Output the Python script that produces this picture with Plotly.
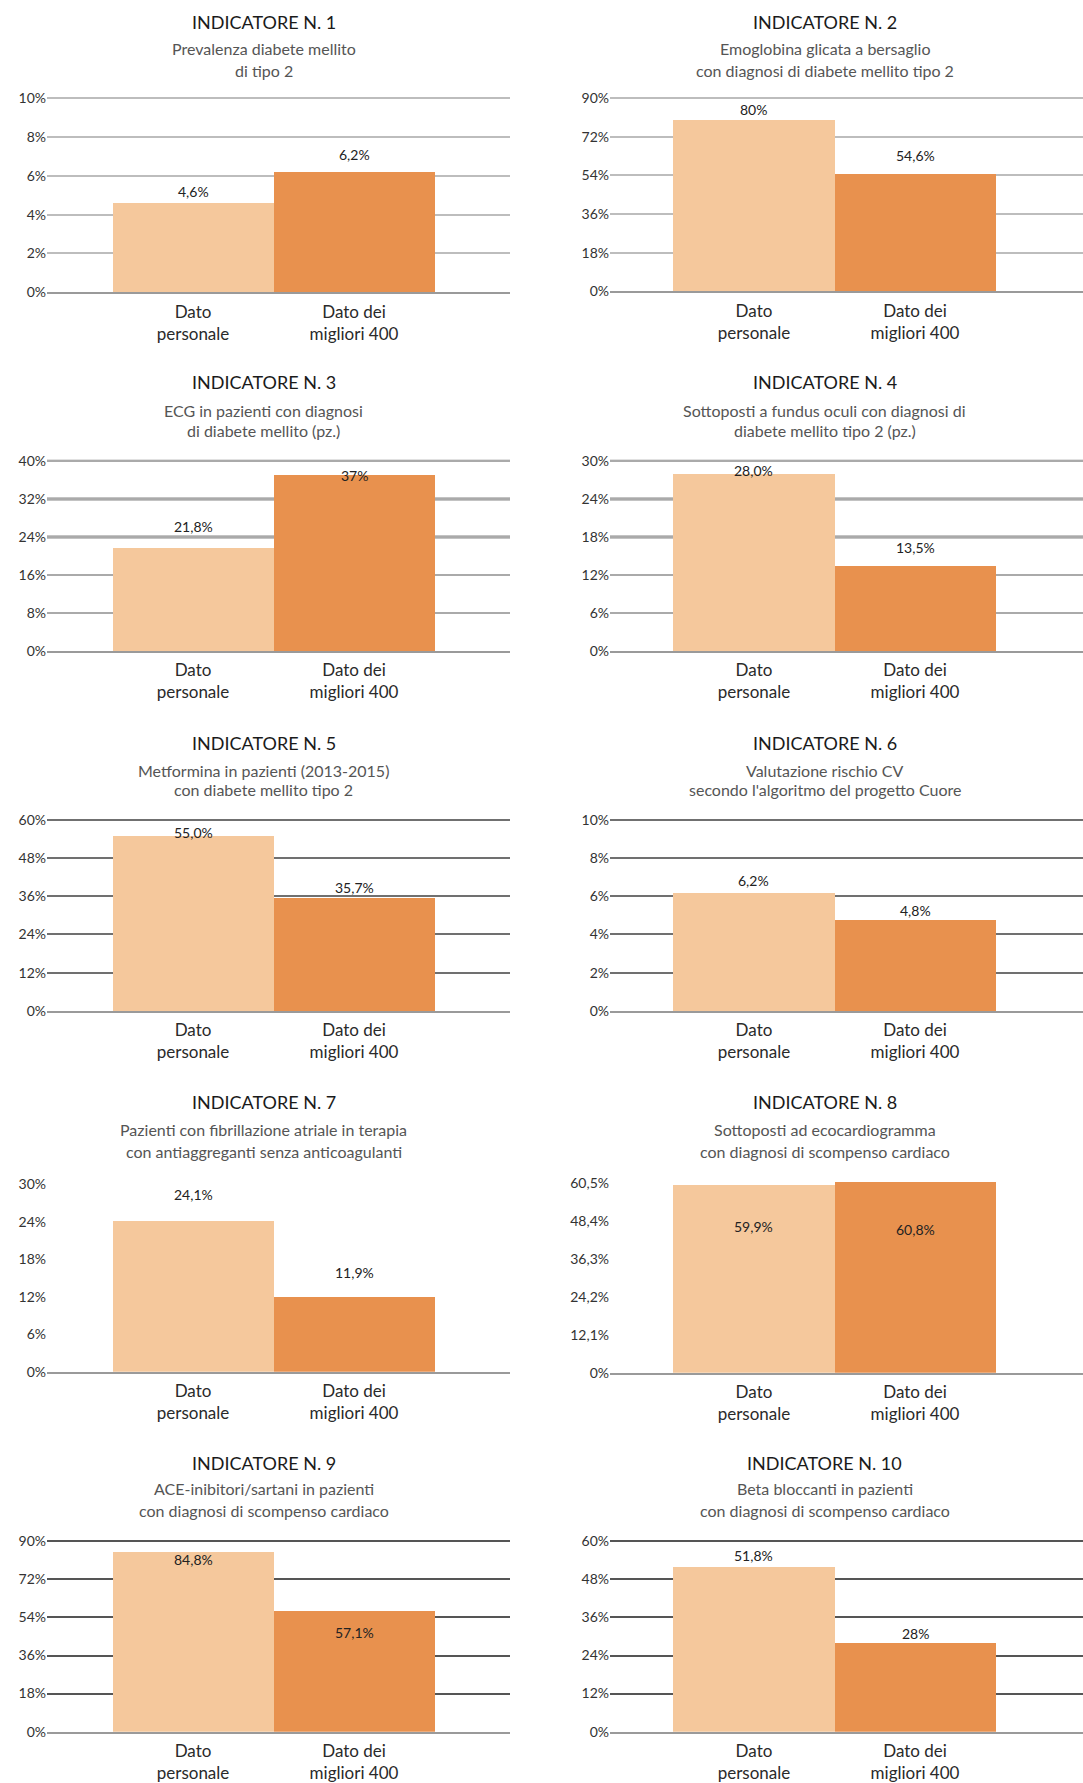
import plotly.graph_objects as go

# ---------------- data ----------------
categories = ["Dato<br>personale", "Dato dei<br>migliori 400"]

titles = ["INDICATORE N. 1", "INDICATORE N. 2", "INDICATORE N. 3", "INDICATORE N. 4",
          "INDICATORE N. 5", "INDICATORE N. 6", "INDICATORE N. 7", "INDICATORE N. 8",
          "INDICATORE N. 9", "INDICATORE N. 10"]

subtitles = [
    ["Prevalenza diabete mellito", "di tipo 2"],
    ["Emoglobina glicata a bersaglio", "con diagnosi di diabete mellito tipo 2"],
    ["ECG in pazienti con diagnosi", "di diabete mellito (pz.)"],
    ["Sottoposti a fundus oculi con diagnosi di", "diabete mellito tipo 2 (pz.)"],
    ["Metformina in pazienti (2013-2015)", "con diabete mellito tipo 2"],
    ["Valutazione rischio CV", "secondo l'algoritmo del progetto Cuore"],
    ["Pazienti con fibrillazione atriale in terapia", "con antiaggreganti senza anticoagulanti"],
    ["Sottoposti ad ecocardiogramma", "con diagnosi di scompenso cardiaco"],
    ["ACE-inibitori/sartani in pazienti", "con diagnosi di scompenso cardiaco"],
    ["Beta bloccanti in pazienti", "con diagnosi di scompenso cardiaco"],
]

ind1_values = [4.6, 6.2]
ind1_labels = ["4,6%", "6,2%"]
ind1_ticks = [0, 2, 4, 6, 8, 10]
ind1_ticktext = ["0%", "2%", "4%", "6%", "8%", "10%"]

ind2_values = [80, 54.6]
ind2_labels = ["80%", "54,6%"]
ind2_ticks = [0, 18, 36, 54, 72, 90]
ind2_ticktext = ["0%", "18%", "36%", "54%", "72%", "90%"]

ind3_values = [21.8, 37]
ind3_labels = ["21,8%", "37%"]
ind3_ticks = [0, 8, 16, 24, 32, 40]
ind3_ticktext = ["0%", "8%", "16%", "24%", "32%", "40%"]

ind4_values = [28.0, 13.5]
ind4_labels = ["28,0%", "13,5%"]
ind4_ticks = [0, 6, 12, 18, 24, 30]
ind4_ticktext = ["0%", "6%", "12%", "18%", "24%", "30%"]

ind5_values = [55.0, 35.7]
ind5_labels = ["55,0%", "35,7%"]
ind5_ticks = [0, 12, 24, 36, 48, 60]
ind5_ticktext = ["0%", "12%", "24%", "36%", "48%", "60%"]

ind6_values = [6.2, 4.8]
ind6_labels = ["6,2%", "4,8%"]
ind6_ticks = [0, 2, 4, 6, 8, 10]
ind6_ticktext = ["0%", "2%", "4%", "6%", "8%", "10%"]

ind7_values = [24.1, 11.9]
ind7_labels = ["24,1%", "11,9%"]
ind7_ticks = [0, 6, 12, 18, 24, 30]
ind7_ticktext = ["0%", "6%", "12%", "18%", "24%", "30%"]

ind8_values = [59.9, 60.8]
ind8_labels = ["59,9%", "60,8%"]
ind8_ticks = [0, 12.1, 24.2, 36.3, 48.4, 60.5]
ind8_ticktext = ["0%", "12,1%", "24,2%", "36,3%", "48,4%", "60,5%"]

ind9_values = [84.8, 57.1]
ind9_labels = ["84,8%", "57,1%"]
ind9_ticks = [0, 18, 36, 54, 72, 90]
ind9_ticktext = ["0%", "18%", "36%", "54%", "72%", "90%"]

ind10_values = [51.8, 28]
ind10_labels = ["51,8%", "28%"]
ind10_ticks = [0, 12, 24, 36, 48, 60]
ind10_ticktext = ["0%", "12%", "24%", "36%", "48%", "60%"]

all_values = [ind1_values, ind2_values, ind3_values, ind4_values, ind5_values,
              ind6_values, ind7_values, ind8_values, ind9_values, ind10_values]
all_labels = [ind1_labels, ind2_labels, ind3_labels, ind4_labels, ind5_labels,
              ind6_labels, ind7_labels, ind8_labels, ind9_labels, ind10_labels]
all_ticks = [ind1_ticks, ind2_ticks, ind3_ticks, ind4_ticks, ind5_ticks,
             ind6_ticks, ind7_ticks, ind8_ticks, ind9_ticks, ind10_ticks]
all_ticktext = [ind1_ticktext, ind2_ticktext, ind3_ticktext, ind4_ticktext, ind5_ticktext,
                ind6_ticktext, ind7_ticktext, ind8_ticktext, ind9_ticktext, ind10_ticktext]

# ---------------- styles / layout ----------------
W, H = 1083, 1783
bar_colors = ["#F5C89C", "#E8914E"]
FONT = "Lato"


def vy(px):
    # vertical pixel target -> figure pixel (compensates the page capture)
    return (px - 7.7) / 0.9892


# plot area pixel positions (top, bottom) per panel
plot_px = [(98, 293), (98, 292), (462, 653), (462, 653), (822, 1014), (822, 1014),
           (1188, 1376), (1185, 1377), (1546, 1737), (1546, 1737)]
# title / subtitle line centres per row
title_px = [(22, 48, 70), (383, 412, 432), (745, 773, 792), (1105, 1133, 1155), (1467, 1493, 1515)]
col_x = [(47, 510), (610, 1083)]
col_xrange = [[-0.907, 1.969], [-0.894, 2.043]]

grid_colors = ["#BDBDBD", "#BDBDBD", "#AAAAAA", "#AAAAAA", "#707070", "#707070",
               None, None, "#555555", "#555555"]
dark_top_lines = [False, False, True, True, False, False, False, False, False, False]
label_shift = [[11, 17], [10, 19], [21, 0], [3, 18], [3, 10], [12, 9],
               [27, 25], [-42, -47], [-7, -22], [12, 9]]
yrange_top = [None] * 10
yrange_top[7] = 61

fig = go.Figure()
annotations = []
shapes = []

for i in range(10):
    n = i + 1
    r, c = divmod(i, 2)
    xa = "x" if n == 1 else f"x{n}"
    ya = "y" if n == 1 else f"y{n}"
    xk = "xaxis" if n == 1 else f"xaxis{n}"
    yk = "yaxis" if n == 1 else f"yaxis{n}"

    fig.add_trace(go.Bar(
        x=[0, 1], y=all_values[i], width=1,
        marker=dict(color=bar_colors, line=dict(width=0)),
        xaxis=xa, yaxis=ya, hoverinfo="skip", showlegend=False,
    ))

    top, bot = vy(plot_px[i][0]), vy(plot_px[i][1])
    x0, x1 = col_x[c]
    tmax = all_ticks[i][-1]
    ytop = yrange_top[i] if yrange_top[i] is not None else tmax
    # tiny headroom so the top gridline is drawn
    eps = ytop * 0.006
    span = ytop + eps
    top_adj = bot - (bot - top) * span / ytop
    gc = grid_colors[i]
    fig.update_layout({
        xk: dict(domain=[x0 / W, x1 / W], range=col_xrange[c], anchor=ya,
                 tickvals=[0, 1], ticktext=categories, showgrid=False, zeroline=False,
                 showline=True, linecolor="#9A9A9A", linewidth=1.5, ticks="",
                 ticklabelstandoff=3,
                 tickfont=dict(family=FONT, size=17, color="#2a2a2a")),
        yk: dict(domain=[1 - bot / H, 1 - top_adj / H], range=[0, span], anchor=xa,
                 tickvals=all_ticks[i], ticktext=all_ticktext[i],
                 showgrid=gc is not None, gridcolor=gc if gc else "#ffffff", gridwidth=2,
                 zeroline=False, showline=False, ticks="",
                 tickfont=dict(family=FONT, size=14, color="#333333")),
    })

    if dark_top_lines[i]:
        for t in all_ticks[i][-3:]:
            shapes.append(dict(type="line", xref=f"{xa} domain", yref=ya,
                               x0=0, x1=1, y0=t, y1=t, layer="below",
                               line=dict(color="#111111", width=2.5)))

    # value labels
    for k in range(2):
        annotations.append(dict(
            x=k, y=all_values[i][k], xref=xa, yref=ya, text=all_labels[i][k],
            showarrow=False, yanchor="middle", xanchor="center", yshift=label_shift[i][k],
            font=dict(family=FONT, size=14, color="#222222")))

    # titles
    tcx = 0.44
    ty, s1, s2 = title_px[r]
    annotations.append(dict(x=tcx, y=1 - vy(ty) / H, xref=xa, yref="paper", text=titles[i],
                            showarrow=False, yanchor="middle", xanchor="center",
                            font=dict(family=FONT, size=18, color="#1a1a1a")))
    for line_text, ly in zip(subtitles[i], (s1, s2)):
        annotations.append(dict(x=tcx, y=1 - vy(ly) / H, xref=xa, yref="paper", text=line_text,
                                showarrow=False, yanchor="middle", xanchor="center",
                                font=dict(family=FONT, size=16, color="#555555")))

fig.update_layout(
    width=W, height=H, margin=dict(l=0, r=0, t=0, b=0),
    paper_bgcolor="white", plot_bgcolor="white",
    bargap=0, showlegend=False,
    annotations=annotations, shapes=shapes,
)

fig.write_html("out.html")
